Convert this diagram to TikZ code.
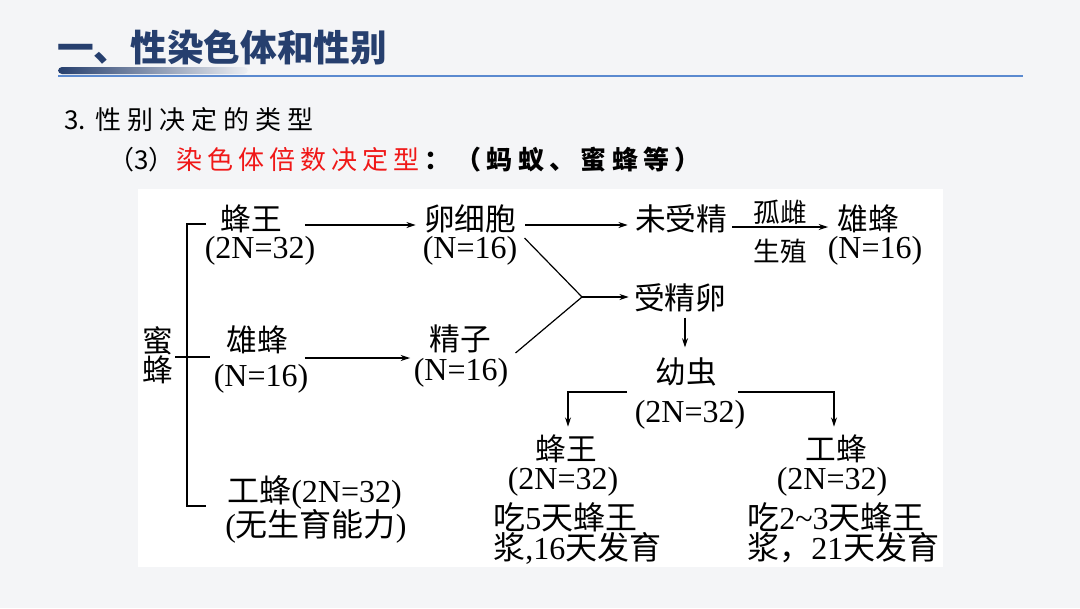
\documentclass[tikz,border=0pt]{standalone}
\usepackage{fontspec}
\setmainfont{Liberation Serif}
\newfontfamily\cjk{Noto Sans CJK SC}
\usetikzlibrary{arrows.meta}
\definecolor{titleblue}{HTML}{263F6E}
\definecolor{lineblue}{HTML}{5B8AD0}
\definecolor{bgc}{HTML}{F4F5F7}
\definecolor{hired}{HTML}{F01818}
\makeatletter
\newcommand\lspaced[2]{\@tfor\lsp@ch:=#2\do{\lsp@ch\kern#1\relax}}
\makeatother
\begin{document}
\begin{tikzpicture}[x=0.75pt,y=-0.75pt,
  lbl/.style={inner sep=0pt, font=\fontsize{23}{26}\selectfont\cjk},
  sm/.style={inner sep=0pt, font=\fontsize{20}{22}\selectfont\cjk},
  num/.style={inner sep=0pt, font=\fontsize{24}{26}\selectfont},
  ln/.style={line width=0.9pt, black},
  arr/.style={ln, -{Stealth[length=7pt,width=4.5pt]}}]
\useasboundingbox (0,0) rectangle (1080,608);
\fill[bgc] (0,0) rectangle (1080,608);
% title
\node[anchor=west, inner sep=0pt, text=titleblue,
      font=\fontsize{27.5}{30}\selectfont\cjk\bfseries] (title) at (57,47) {一、性染色体和性别};
\shade[left color=titleblue, right color=titleblue!8, rounded corners=3pt] (58,67) rectangle (248,74);
\draw[lineblue, line width=1.1pt] (58,76) -- (1023,76);
% subtitles
\node[anchor=west, inner sep=0pt, font=\fontsize{19.5}{22}\selectfont\cjk] (sub1) at (64,120)
  {3.\kern7pt\lspaced{4.5pt}{性别决定的类型}};
\node[anchor=west, inner sep=0pt, font=\fontsize{19.5}{22}\selectfont\cjk] (sub2) at (108,160)
  {（3）\kern1pt\textcolor{hired}{\lspaced{3.75pt}{染色体倍数决定型}}{\bfseries\lspaced{4pt}{：（蚂蚁、蜜蜂等）}}};
% white panel
\fill[white] (138,189) rectangle (943,567);
% left column
\node[lbl] (beeA) at (158,341) {蜜};
\node[lbl] (beeB) at (158,370) {蜂};
\node[lbl] (queenA) at (251,219) {蜂王};
\node[num] (queenB) at (260,251) {(2N=32)};
\node[lbl] (droneA) at (257,340) {雄蜂};
\node[num] (droneB) at (261,379) {(N=16)};
\node[num, anchor=west] (workerA) at (227,492) {{\cjk 工蜂}(2N=32)};
\node[num, anchor=west] (workerB) at (225,526) {({\cjk 无生育能力})};
% bracket
\coordinate (tq) at (206,224);
\coordinate (bt) at (187,224);
\coordinate (bb) at (187,506);
\coordinate (tw) at (206,506);
\coordinate (ml) at (175,357);
\coordinate (mr) at (210,357);
\draw[ln] (tq) -- (bt) -- (bb) -- (tw);
\draw[ln] (ml) -- (mr);
% gametes
\node[lbl] (eggA) at (470,219) {卵细胞};
\node[num] (eggB) at (470,251) {(N=16)};
\node[lbl] (spermA) at (460,339) {精子};
\node[num] (spermB) at (461,373) {(N=16)};
\draw[arr] ([shift={(23,6)}]queenA.east) -- ([shift={(-8,6)}]eggA.west);
\draw[arr] ([shift={(17,18)}]droneA.east) -- ([shift={(-19,19)}]spermA.west);
% right part
\node[lbl] (unfA) at (681,219) {未受精};
\node[lbl] (maleA) at (868,219) {雄蜂};
\node[num] (maleB) at (875,251) {(N=16)};
\node[lbl] (fert) at (680,298) {受精卵};
\draw[arr] ([shift={(9,6)}]eggA.east) -- ([shift={(-7,6)}]unfA.west);
\draw[arr] ([shift={(5,8)}]unfA.east) -- node[sm, midway, yshift=11.25pt] (lab1) {孤雌}
      node[sm, midway, yshift=-18pt] (lab2) {生殖} ([shift={(-9,8)}]maleA.west);
\coordinate (J) at (582,297);
\draw[ln] ([shift={(7,-13)}]eggB.east) -- (J);
\draw[ln] ([shift={(7,-20)}]spermB.east) -- (J);
\draw[arr] (J) -- ([shift={(-5,-1)}]fert.west);
\node[lbl] (larvaA) at (686,372) {幼虫};
\node[num] (larvaB) at (690,415) {(2N=32)};
\draw[arr] ([shift={(5,5)}]fert.south) -- ([shift={(-1,-10)}]larvaA.north);
% offspring
\node[lbl] (qA2) at (566,449) {蜂王};
\node[num] (qB2) at (563,482) {(2N=32)};
\node[num, anchor=west] (qC2) at (493,517) {{\cjk 吃}5{\cjk 天蜂王}};
\node[num, anchor=west] (qD2) at (493,548) {{\cjk 浆},16{\cjk 天发育}};
\node[lbl] (wA2) at (836,449) {工蜂};
\node[num] (wB2) at (832,482) {(2N=32)};
\node[num, anchor=west] (wC2) at (747,517) {{\cjk 吃}2\textasciitilde3{\cjk 天蜂王}};
\node[num, anchor=west] (wD2) at (747,548) {{\cjk 浆，}21{\cjk 天发育}};
\coordinate (brL) at (627,392);
\coordinate (brR) at (738,392);
\draw[arr] (brL) -| ([shift={(2,-8)}]qA2.north);
\draw[arr] (brR) -| ([shift={(-2,-8)}]wA2.north);
\end{tikzpicture}
\end{document}
